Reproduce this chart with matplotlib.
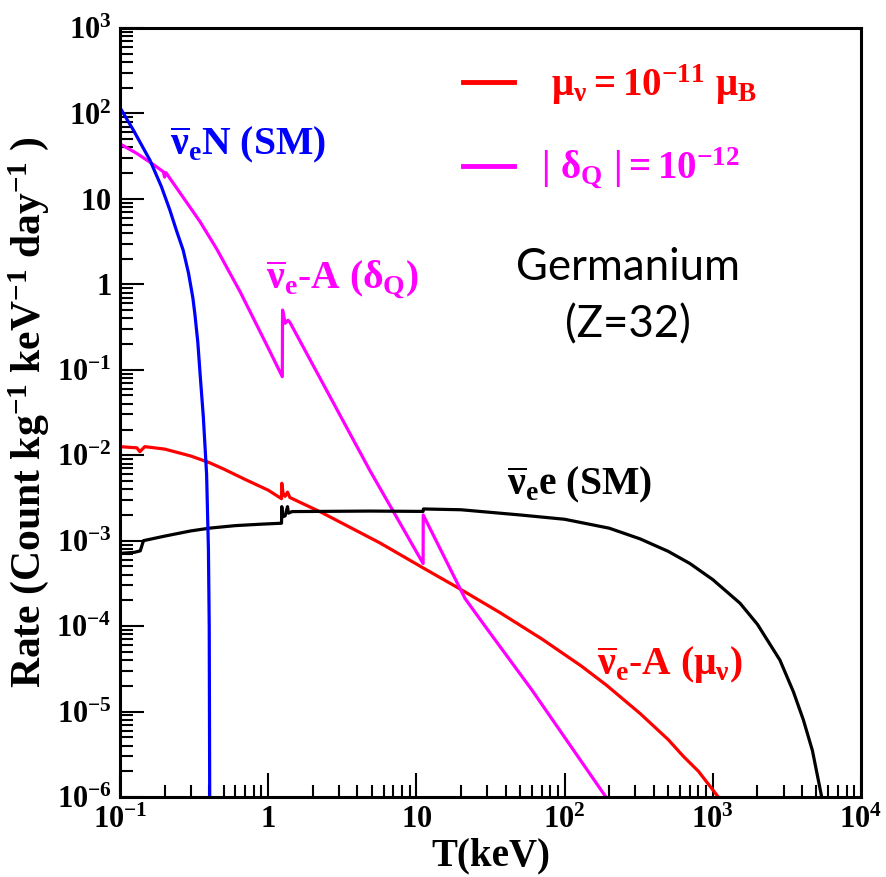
import matplotlib
matplotlib.use("Agg")
import matplotlib.pyplot as plt
from matplotlib.ticker import LogLocator, FixedLocator, FixedFormatter, NullFormatter

plt.rcParams['mathtext.fontset'] = 'custom'
plt.rcParams['mathtext.rm'] = 'Liberation Serif:bold'
plt.rcParams['mathtext.it'] = 'Liberation Serif:bold'
plt.rcParams['mathtext.bf'] = 'Liberation Serif:bold'
plt.rcParams['mathtext.sf'] = 'Liberation Serif:bold'
plt.rcParams['font.family'] = 'Liberation Serif'
plt.rcParams['font.weight'] = 'bold'

# ---- data ----
blue_x = [0.100, 0.123, 0.159, 0.190, 0.217, 0.240, 0.267, 0.290, 0.310, 0.320, 0.335,
          0.347, 0.365, 0.384, 0.395, 0.400, 0.403]
blue_y = [117, 64, 28.5, 14, 7.4, 4.3, 2.5, 1.35, 0.70, 0.45, 0.21,
          0.09, 0.028, 6e-3, 8e-4, 1e-4, 1e-6]

mag_x = [0.100, 0.130, 0.164, 0.196, 0.200, 0.204, 0.267, 0.347, 0.449, 0.646, 0.754, 1.00,
         1.245, 1.25, 1.27, 1.30, 1.36, 1.40, 4.86, 11.1, 11.12, 21.3, 29.8, 60, 100, 190]
mag_y = [44, 34, 26, 20.8, 18.0, 20.3, 10.4, 5.4, 2.6, 0.82, 0.48, 0.18,
         0.083, 0.50, 0.44, 0.35, 0.38, 0.36, 6.6e-3, 5.4e-4, 2.0e-3, 2.1e-4, 9.4e-5, 1.8e-5, 5.0e-6, 1e-6]

red_x = [0.100, 0.130, 0.136, 0.147, 0.200, 0.300, 0.400, 0.500, 0.700, 1.00, 1.23, 1.235, 1.26,
         1.30, 1.35, 1.40, 2.3, 5.68, 11.1, 19.2, 36.6, 70, 130, 192, 323, 500, 632, 800, 1089]
red_y = [0.0126, 0.0122, 0.0110, 0.0126, 0.0118, 0.0098, 0.0082, 0.0069, 0.0052, 0.0039, 0.0031, 0.0047, 0.0036,
         0.0033, 0.0037, 0.0032, 2.13e-3, 9.4e-4, 4.8e-4, 2.79e-4, 1.44e-4, 7.1e-5, 3.4e-5, 2.03e-5, 9.5e-6,
         4.7e-6, 3.0e-6, 2.0e-6, 1e-6]

blk_x = [0.100, 0.125, 0.137, 0.144, 0.200, 0.300, 0.400, 0.600, 0.900, 1.23, 1.235, 1.25, 1.30,
         1.35, 1.37, 1.45, 4.86, 11.1, 11.15, 20, 50, 100, 200, 323, 500, 701, 1000, 1528, 2000,
         2838, 3500, 4083, 4700, 5430]
blk_y = [7.1e-4, 7.3e-4, 7.6e-4, 1.0e-3, 1.13e-3, 1.30e-3, 1.40e-3, 1.50e-3, 1.56e-3, 1.6e-3, 2.5e-3, 1.9e-3, 1.95e-3,
         2.5e-3, 2.1e-3, 2.19e-3, 2.22e-3, 2.2e-3, 2.35e-3, 2.3e-3, 2.0e-3, 1.78e-3, 1.4e-3, 1.05e-3, 7.5e-4,
         5.4e-4, 3.5e-4, 1.85e-4, 1.05e-4, 4.0e-5, 1.7e-5, 8e-6, 3.5e-6, 1e-6]

x_ticks = [0.1, 1, 10, 100, 1000, 10000]
x_tick_labels = [r'$10^{-1}$', r'$1$', r'$10$', r'$10^{2}$', r'$10^{3}$', r'$10^{4}$']
y_ticks = [1e-6, 1e-5, 1e-4, 1e-3, 1e-2, 1e-1, 1, 10, 100, 1000]
y_tick_labels = [r'$10^{-6}$', r'$10^{-5}$', r'$10^{-4}$', r'$10^{-3}$', r'$10^{-2}$',
                 r'$10^{-1}$', r'$1$', r'$10$', r'$10^{2}$', r'$10^{3}$']

W, H = 887, 877
fig = plt.figure(figsize=(W / 100, H / 100), dpi=100)
ax = fig.add_axes([120 / W, 1 - 797 / H, 741 / W, 769 / H])

lw = 2.3
l_red, = ax.plot(red_x, red_y, color='#ff0000', lw=lw)
l_mag, = ax.plot(mag_x, mag_y, color='#ff00ff', lw=lw)
ax.plot(blk_x, blk_y, color='black', lw=lw)
ax.plot(blue_x, blue_y, color='#0000ff', lw=lw)

ax.set_xscale('log')
ax.set_yscale('log')
ax.set_xlim(0.1, 1e4)
ax.set_ylim(1e-6, 1e3)

ax.xaxis.set_major_locator(FixedLocator(x_ticks))
ax.xaxis.set_major_formatter(FixedFormatter(x_tick_labels))
ax.yaxis.set_major_locator(FixedLocator(y_ticks))
ax.yaxis.set_major_formatter(FixedFormatter(y_tick_labels))
ax.xaxis.set_minor_locator(LogLocator(base=10, subs=range(2, 10), numticks=20))
ax.yaxis.set_minor_locator(LogLocator(base=10, subs=range(2, 10), numticks=20))
ax.xaxis.set_minor_formatter(NullFormatter())
ax.yaxis.set_minor_formatter(NullFormatter())

ax.tick_params(which='both', direction='in', top=False, right=False, width=1.5, colors='black')
ax.tick_params(which='major', length=17, labelsize=22, pad=6)
ax.tick_params(which='minor', length=9)
for sp in ax.spines.values():
    sp.set_linewidth(2.2)

ax.set_xlabel('T(keV)', fontsize=28, fontweight='bold', labelpad=2)
ax.set_ylabel(r'Rate (Count kg$^{-1}$ keV$^{-1}$ day$^{-1}$ )', fontsize=30, fontweight='bold', labelpad=4)

def ftext(px, py, s, color, size, **kw):
    fig.text(px / W, 1 - py / H, s, color=color, fontsize=size, ha='center', va='center', **kw)

ftext(248, 145, r'$\overline{\nu}_e$N (SM)', '#0000ff', 28.5, fontweight='bold')
ftext(342, 280, r'$\overline{\nu}_e$-A ($\delta_Q$)', '#ff00ff', 28.5, fontweight='bold')
ftext(579, 485, r'$\overline{\nu}_e$e (SM)', 'black', 28.5, fontweight='bold')
ftext(670, 665, r'$\overline{\nu}_e$-A ($\mu_\nu$)', '#ff0000', 28.5, fontweight='bold')

ftext(628, 268, 'Germanium', 'black', 31.5, family='Lato', fontweight='normal')
ftext(628, 325, '(Z=32)', 'black', 31.5, family='Lato', fontweight='normal')

leg = ax.legend([l_red, l_mag],
                [r'$\ \mu_\nu = 10^{-11}\ \mu_B$', r'$|\ \delta_Q\ | = 10^{-12}$'],
                loc='center left', bbox_to_anchor=((463 - 120) / 741, 1 - (127 - 28) / 769),
                frameon=False, fontsize=28, handlelength=1.3, handletextpad=0.7,
                labelspacing=1.0, labelcolor='linecolor', borderaxespad=0, borderpad=0)
for line in leg.get_lines():
    line.set_linewidth(3.5)

fig.savefig('out.png', dpi=100)
